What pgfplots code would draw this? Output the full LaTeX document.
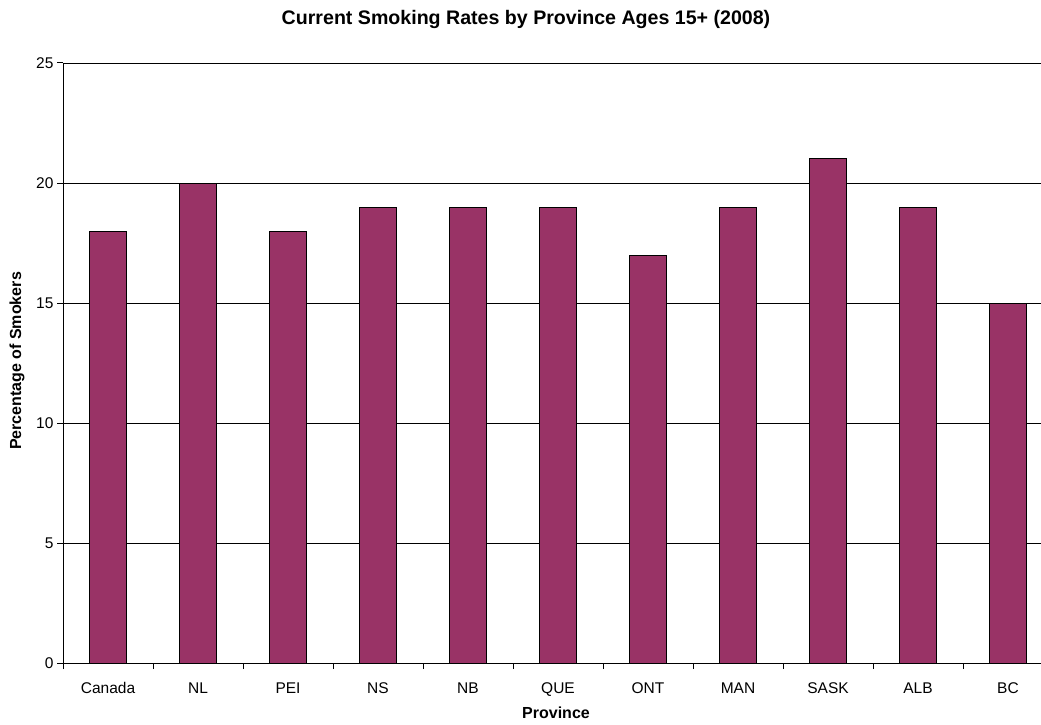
\documentclass[border=0pt]{standalone}
\usepackage{pgfplots}
\pgfplotsset{compat=1.18}
\usepackage{fontspec}
\setmainfont{Liberation Sans}
\definecolor{barplum}{HTML}{993366}
\begin{document}
\begin{tikzpicture}[x=1pt,y=1pt]
\begin{axis}[
  at={(63pt,61pt)}, anchor=south west,
  scale only axis, width=978pt, height=600pt,
  xmin=-0.5, xmax=10.3667, ymin=0, ymax=25,
  axis lines=left, axis line style={line width=1pt,-},
  ytick={0,5,...,25},
  ymajorgrids, grid style={black, line width=0.8pt},
  xtick={-0.5,0.5,...,9.5},
  xticklabels={},
  extra x ticks={0,...,10},
  extra x tick labels={Canada,NL,PEI,NS,NB,QUE,ONT,MAN,SASK,ALB,BC},
  extra x tick style={major tick length=0pt, xmajorgrids=false},
  tick style={line width=1pt, black}, major tick length=6pt, tick align=outside,
  tick label style={font=\fontsize{15.5}{18}\selectfont},
  xticklabel style={anchor=base, yshift=-30.5pt},
  /pgf/number format/assume math mode=true,
  ybar, bar width=37pt,
  clip=false,
]
\addplot[fill=barplum, draw=black, line width=1pt] coordinates {
  (0,18) (1,20) (2,18) (3,19) (4,19) (5,19) (6,17) (7,19) (8,21) (9,19) (10,15)};
\end{axis}
\node[font=\bfseries\fontsize{19.6}{23}\selectfont] at (526pt,705pt) {Current Smoking Rates by Province Ages 15+ (2008)};
\node[font=\bfseries\fontsize{16}{19}\selectfont] at (556pt,11pt) {Province};
\node[font=\bfseries\fontsize{16}{19}\selectfont, rotate=90] at (17pt,363pt) {Percentage of Smokers};
\pgfresetboundingbox
\useasboundingbox (0,0) rectangle (1041pt,724pt);
\end{tikzpicture}
\end{document}
